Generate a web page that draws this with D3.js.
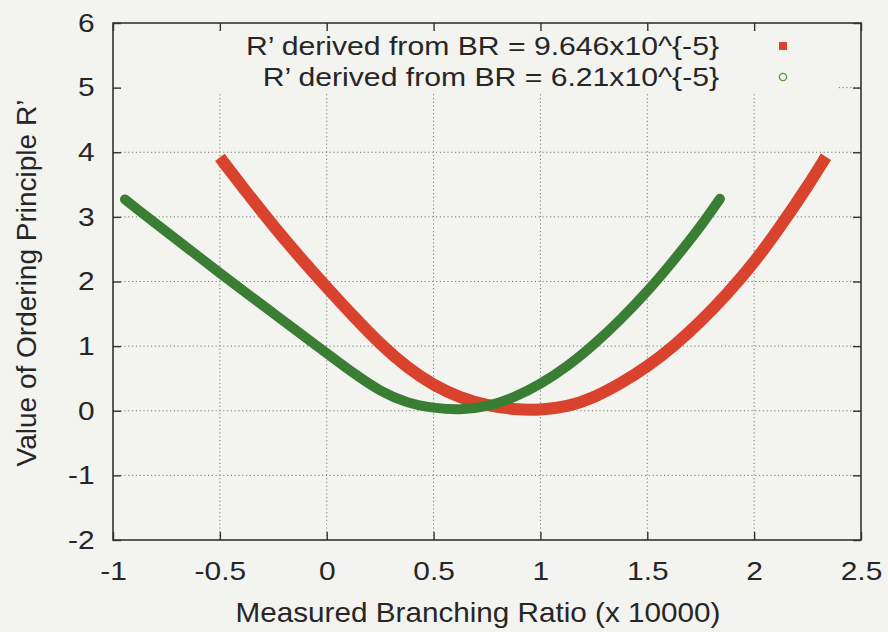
<!DOCTYPE html>
<html>
<head>
<meta charset="utf-8">
<script src="https://cdn.jsdelivr.net/npm/d3@7"></script>
<style>
  html, body { margin: 0; padding: 0; background: #f3f3f0; }
  svg { display: block; }
  text { font-family: "Liberation Sans", Arial, Helvetica, sans-serif; fill: #262626; }
</style>
</head>
<body>
<script>
// ---- data ----
const xTicks = [-1, -0.5, 0, 0.5, 1, 1.5, 2, 2.5];
const yTicks = [-2, -1, 0, 1, 2, 3, 4, 5, 6];
const xTickLabels = ["-1", "-0.5", "0", "0.5", "1", "1.5", "2", "2.5"];
const yTickLabels = ["-2", "-1", "0", "1", "2", "3", "4", "5", "6"];

const seriesNames = [
  "R\u2019 derived from BR = 9.646x10^{-5}",
  "R\u2019 derived from BR = 6.21x10^{-5}"
];

// BR = 9.646e-5 (red)
const redX = [-0.5, -0.375, -0.25, -0.125, 0, 0.125, 0.25, 0.375, 0.5, 0.625, 0.75, 0.875,
              1.0, 1.125, 1.25, 1.375, 1.5, 1.625, 1.75, 1.875, 2.0, 2.125, 2.25, 2.336];
const redY = [3.92, 3.38, 2.86, 2.37, 1.91, 1.46, 1.03, 0.67, 0.39, 0.20, 0.08, 0.02,
              0.01, 0.06, 0.20, 0.42, 0.68, 1.00, 1.38, 1.81, 2.29, 2.86, 3.47, 3.93];

// BR = 6.21e-5 (green)
const greenX = [-0.944, -0.875, -0.75, -0.625, -0.5, -0.375, -0.25, -0.125, 0, 0.125, 0.25, 0.375,
                0.5, 0.625, 0.75, 0.875, 1.0, 1.125, 1.25, 1.375, 1.5, 1.625, 1.75, 1.84];
const greenY = [3.27, 3.09, 2.77, 2.45, 2.13, 1.82, 1.51, 1.20, 0.89, 0.58, 0.30, 0.12,
                0.04, 0.01, 0.06, 0.20, 0.41, 0.68, 1.02, 1.41, 1.84, 2.33, 2.85, 3.28];

// ---- layout ----
const W = 888, H = 632;
const margin = { left: 113, right: W - 861, top: 23, bottom: H - 540 };
const RED = "#d9432d", GREEN = "#3a7e34";

const svg = d3.select("body").append("svg").attr("width", W).attr("height", H);
svg.append("rect").attr("width", W).attr("height", H).attr("fill", "#f3f3f0");

const x = d3.scaleLinear().domain([-1, 2.5]).range([margin.left, W - margin.right]);
const y = d3.scaleLinear().domain([-2, 6]).range([H - margin.bottom, margin.top]);

// grid
const grid = svg.append("g").attr("stroke", "#7a7a7a").attr("stroke-width", 1)
  .attr("stroke-dasharray", "1.2,2.6");
grid.selectAll("line.gx").data(xTicks.slice(1, -1)).join("line")
  .attr("x1", d => x(d)).attr("x2", d => x(d))
  .attr("y1", y(-2)).attr("y2", y(6));
grid.selectAll("line.gy").data(yTicks.slice(1, -1)).join("line")
  .attr("y1", d => y(d)).attr("y2", d => y(d))
  .attr("x1", x(-1)).attr("x2", x(2.5));

// opaque key area (hides grid beneath legend)
svg.append("rect")
  .attr("x", x(-1)).attr("y", y(6))
  .attr("width", 838 - x(-1)).attr("height", 92 - y(6))
  .attr("fill", "#f3f3f0");

// axes: inward ticks on all four sides
const tickLen = 8;
const fmtX = (d, i) => xTickLabels[i];
const fmtY = (d, i) => yTickLabels[i];
const axB = svg.append("g").attr("transform", `translate(0,${y(-2)})`)
  .call(d3.axisBottom(x).tickValues(xTicks).tickFormat(fmtX).tickSizeInner(-tickLen).tickSizeOuter(0));
const axT = svg.append("g").attr("transform", `translate(0,${y(6)})`)
  .call(d3.axisTop(x).tickValues(xTicks).tickFormat("").tickSizeInner(-tickLen).tickSizeOuter(0));
const axL = svg.append("g").attr("transform", `translate(${x(-1)},0)`)
  .call(d3.axisLeft(y).tickValues(yTicks).tickFormat(fmtY).tickSizeInner(-tickLen).tickSizeOuter(0).tickPadding(16));
const axR = svg.append("g").attr("transform", `translate(${x(2.5)},0)`)
  .call(d3.axisRight(y).tickValues(yTicks).tickFormat("").tickSizeInner(-tickLen).tickSizeOuter(0));

[axB, axT, axL, axR].forEach(a => {
  a.select(".domain").remove();
  a.selectAll(".tick line").attr("stroke", "#333").attr("stroke-width", 1.4);
});
axB.selectAll(".tick text")
  .attr("font-size", 26).attr("fill", "#262626")
  .attr("y", 40).attr("dy", 0)
  .attr("transform", "scale(1.15,1)");
axL.selectAll(".tick text")
  .attr("font-size", 26).attr("fill", "#262626")
  .attr("transform", "scale(1.15,1)");

// frame
svg.append("rect")
  .attr("x", x(-1)).attr("y", y(6))
  .attr("width", x(2.5) - x(-1)).attr("height", y(-2) - y(6))
  .attr("fill", "none").attr("stroke", "#333").attr("stroke-width", 1.6);

// curves
const lineGen = d3.line().x(d => x(d[0])).y(d => y(d[1])).curve(d3.curveBasis);
const redPts = redX.map((v, i) => [v, redY[i]]);
const greenPts = greenX.map((v, i) => [v, greenY[i]]);

svg.append("path").datum(redPts).attr("d", lineGen)
  .attr("fill", "none").attr("stroke", RED).attr("stroke-width", 12)
  .attr("stroke-linecap", "butt").attr("stroke-linejoin", "round");
svg.append("path").datum(greenPts).attr("d", lineGen)
  .attr("fill", "none").attr("stroke", GREEN).attr("stroke-width", 10)
  .attr("stroke-linecap", "round").attr("stroke-linejoin", "round");

// legend
const leg = svg.append("g");
const legRows = [46, 77];
leg.selectAll("text").data(seriesNames).join("text")
  .attr("transform", (d, i) => `translate(719,${legRows[i]}) scale(1.16,1)`)
  .attr("text-anchor", "end").attr("dy", "0.35em")
  .attr("font-size", 26)
  .text(d => d);
leg.append("rect").attr("x", 783 - 4).attr("y", legRows[0] - 4).attr("width", 8).attr("height", 8)
  .attr("fill", RED);
leg.append("circle").attr("cx", 783).attr("cy", legRows[1]).attr("r", 3.6)
  .attr("fill", "none").attr("stroke", "#5a9a3a").attr("stroke-width", 1.4);

// axis titles
svg.append("text")
  .attr("transform", "translate(478,622) scale(1.06,1)")
  .attr("text-anchor", "middle").attr("font-size", 28)
  .text("Measured Branching Ratio (x 10000)");
svg.append("text")
  .attr("transform", `translate(36,283) rotate(-90)`)
  .attr("text-anchor", "middle").attr("font-size", 28)
  .text("Value of Ordering Principle R\u2019");
</script>
</body>
</html>
